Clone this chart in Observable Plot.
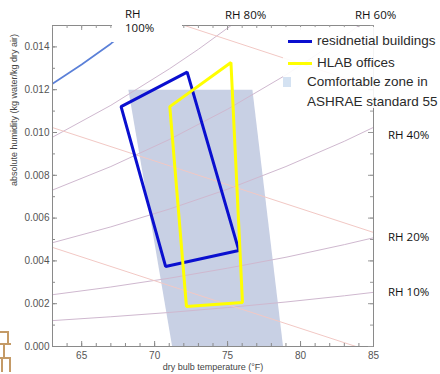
<!DOCTYPE html>
<html><head><meta charset="utf-8">
<script src="https://cdn.jsdelivr.net/npm/d3@7"></script>
<script src="https://cdn.jsdelivr.net/npm/@observablehq/plot@0.6"></script>
<style>
body{margin:0;background:#fff;}
#wrap{position:relative;width:440px;height:374px;overflow:hidden;background:#fff;}
#wrap svg{position:absolute;left:0;top:0;}
.rh{position:absolute;font-family:"Open Sans","Noto Sans",sans-serif;font-size:11.5px;color:#111;line-height:14px;white-space:nowrap;}
.box{background:#fff;}
#legend{position:absolute;left:283px;top:27px;width:157px;height:81px;background:rgba(255,255,255,0.9);font-family:"Liberation Sans",Arial,sans-serif;font-size:13.5px;color:#2a2a2a;}
#legend .t{position:absolute;line-height:16px;white-space:nowrap;}
#legend .sw{position:absolute;}
#logo{position:absolute;left:0;top:328px;}
</style></head><body><div id="wrap"></div>
<script>
// ---- data ----
const tempDomain = [63, 85];
const humidityDomain = [0, 0.015];
const xTicks = [65, 70, 75, 80, 85];
const yTicks = [0, 0.002, 0.004, 0.006, 0.008, 0.010, 0.012, 0.014];
const xMinorTicks = [63,64,65,66,67,68,69,70,71,72,73,74,75,76,77,78,79,80,81,82,83,84,85];
const yMinorTicks = [0,0.001,0.002,0.003,0.004,0.005,0.006,0.007,0.008,0.009,0.010,0.011,0.012,0.013,0.014,0.015];

// relative humidity curves [temperature °F, humidity ratio]
const rh100 = [[63,0.01228],[65,0.01318],[67,0.01415],[68.6,0.01500]];
const rh80 = [[63,0.00978],[67,0.01127],[71,0.01297],[73,0.01389],[75,0.01488],[75.25,0.01500]];
const rh60 = [[63,0.00731],[67,0.00841],[71,0.00967],[75,0.01109],[79,0.01269],[83,0.01450],[84,0.01500]];
const rh40 = [[63,0.00485],[67,0.00559],[71,0.00642],[75,0.00735],[79,0.00841],[83,0.00959],[85,0.01024]];
const rh20 = [[63,0.00242],[67,0.00278],[71,0.00319],[75,0.00366],[79,0.00417],[83,0.00476],[85,0.00508]];
const rh10 = [[63,0.00121],[67,0.00139],[71,0.00159],[75,0.00182],[79,0.00208],[83,0.00237],[85,0.00253]];

// enthalpy (diagonal) lines
const enthalpyA = [[63,0.01023],[85,0.00533]];
const enthalpyB = [[63,0.00463],[83.8,0.0]];
const enthalpyC = [[72.05,0.01500],[85,0.01210]];

// polygons
const comfortZone = [[68.2,0.0120],[76.7,0.0120],[78.8,0.0],[71.2,0.0]];
const residential = [[67.70,0.01121],[72.23,0.01282],[75.77,0.00449],[70.75,0.00374]];
const hlabOffices = [[71.04,0.01121],[75.23,0.01327],[76.02,0.00206],[72.18,0.00187]];

const legendLabels = ["residnetial buildings", "HLAB offices", "Comfortable zone in", "ASHRAE standard 55"];
const rhLabels = ["RH 100%", "RH 80%", "RH 60%", "RH 40%", "RH 20%", "RH 10%"];
const xLabel = "dry bulb temperature (°F)";
const yLabel = "absolute humidity (kg water/kg dry air)";

// ---- chart ----
const X = d => d[0], Y = d => d[1];
const rhColor = "#cfb8cf";
const enthColor = "#f2c8c4";
const chart = Plot.plot({
  width: 440, height: 374,
  marginLeft: 52, marginRight: 67, marginTop: 25, marginBottom: 28,
  x: {domain: tempDomain},
  y: {domain: humidityDomain},
  style: {fontFamily: "'Liberation Sans', Arial, sans-serif", fontSize: "10px", color: "#555", background: "transparent", overflow: "visible"},
  marks: [
    Plot.line(comfortZone, {x: X, y: Y, curve: "linear-closed", fill: "#c8d0e4", stroke: "none"}),
    ...[rh80, rh60, rh40, rh20, rh10].map(c => Plot.line(c, {x: X, y: Y, stroke: rhColor, strokeWidth: 1, clip: true})),
    ...[enthalpyA, enthalpyB, enthalpyC].map(c => Plot.line(c, {x: X, y: Y, stroke: enthColor, strokeWidth: 1, clip: true})),
    Plot.line(rh100, {x: X, y: Y, stroke: "#5b80d8", strokeWidth: 1.7, clip: true}),
    Plot.line(residential, {x: X, y: Y, curve: "linear-closed", stroke: "#0a0fcf", strokeWidth: 3, strokeLinejoin: "miter"}),
    Plot.line(hlabOffices, {x: X, y: Y, curve: "linear-closed", stroke: "#ffff00", strokeWidth: 3, strokeLinejoin: "miter"}),
    Plot.frame({stroke: "#8a8a8a"}),
    Plot.ruleX(xMinorTicks, {x: d => d, insetTop: 318, stroke: "#8a8a8a"}),
    Plot.ruleX(xMinorTicks, {x: d => d, insetBottom: 318, stroke: "#9a9a9a"}),
    Plot.ruleX(xTicks, {x: d => d, insetTop: 316, stroke: "#8a8a8a"}),
    Plot.ruleX(xTicks, {x: d => d, insetBottom: 316, stroke: "#9a9a9a"}),
    Plot.ruleY(yMinorTicks, {y: d => d, insetRight: 318, stroke: "#8a8a8a"}),
    Plot.ruleY(yMinorTicks, {y: d => d, insetLeft: 318, stroke: "#9a9a9a"}),
    Plot.ruleY(yTicks, {y: d => d, insetRight: 316, stroke: "#8a8a8a"}),
    Plot.ruleY(yTicks, {y: d => d, insetLeft: 316, stroke: "#9a9a9a"}),
    Plot.axisX(xTicks, {tickSize: 0, tickPadding: 5, label: null, tickFormat: d => String(d), fill: "#555"}),
    Plot.axisY(yTicks, {tickSize: 0, tickPadding: 3, label: null, tickFormat: d3.format(".3f"), fill: "#555"}),
    Plot.text([xLabel], {text: d => d, frameAnchor: "bottom", dy: 23, fontSize: 9, fill: "#444"}),
    Plot.text([yLabel], {text: d => d, frameAnchor: "left", dx: -38, rotate: -90, fontSize: 9, fill: "#444"})
  ]
});
const wrap = document.getElementById("wrap");
wrap.appendChild(chart);

// RH labels (boxes with white background, as in the reference)
function addDiv(cls, style, html) {
  const d = document.createElement("div");
  d.className = cls;
  Object.assign(d.style, style);
  d.innerHTML = html;
  wrap.appendChild(d);
  return d;
}
addDiv("rh box", {left: "112px", top: "0px", width: "70px", height: "42px", paddingLeft: "13px", paddingTop: "7px", boxSizing: "border-box"}, rhLabels[0].replace(" ", "<br>"));
addDiv("rh box", {left: "212px", top: "0px", width: "70px", height: "25px", paddingLeft: "13px", paddingTop: "8px", boxSizing: "border-box"}, rhLabels[1]);
addDiv("rh box", {left: "342px", top: "0px", width: "76px", height: "25px", paddingLeft: "13px", paddingTop: "8px", boxSizing: "border-box"}, rhLabels[2]);
addDiv("rh", {left: "388px", top: "128px"}, rhLabels[3]);
addDiv("rh", {left: "388px", top: "230px"}, rhLabels[4]);
addDiv("rh", {left: "388px", top: "285px"}, rhLabels[5]);

// legend
const lg = addDiv("", {}, "");
lg.id = "legend";
lg.innerHTML =
  `<div class="sw" style="left:5px;top:12.5px;width:24px;height:3px;background:#0a0fcf"></div>` +
  `<div class="t" style="left:34px;top:6px">${legendLabels[0]}</div>` +
  `<div class="sw" style="left:5px;top:34.5px;width:24px;height:3px;background:#ffff00"></div>` +
  `<div class="t" style="left:34px;top:28px">${legendLabels[1]}</div>` +
  `<div class="sw" style="left:0px;top:50px;width:8px;height:10px;background:#d4e2f2"></div>` +
  `<div class="t" style="left:24px;top:47px">${legendLabels[2]}</div>` +
  `<div class="t" style="left:24px;top:67px">${legendLabels[3]}</div>`;

// small logo fragment at bottom-left
const logo = addDiv("", {}, `<svg width="12" height="46" viewBox="0 0 12 46"><g fill="none" stroke="#c49a66" stroke-width="2"><path d="M0 4 H8 V16"/><path d="M0 16 H11"/><path d="M4 16 V30"/><path d="M0 30 H10 V44"/><path d="M2 30 V44"/></g></svg>`);
logo.id = "logo";
</script>
</body></html>
